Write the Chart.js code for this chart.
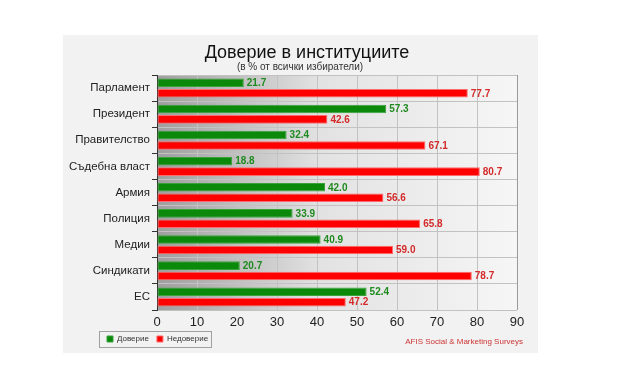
<!DOCTYPE html>
<html>
<head>
<meta charset="utf-8">
<script src="https://cdn.jsdelivr.net/npm/chart.js@4/dist/chart.umd.min.js"></script>
<style>
  html, body { margin: 0; padding: 0; background: #ffffff; }
  #panel { position: absolute; left: 63px; top: 35px; width: 475px; height: 318px; background: #f2f2f2; }
  canvas { display: block; }
</style>
</head>
<body>
<div id="panel"><canvas id="c" width="475" height="318"></canvas></div>
<script>
const titleText = 'Доверие в институциите';
const subtitleText = '(в % от всички избиратели)';
const sourceText = 'AFIS Social & Marketing Surveys';
const categories = ['Парламент', 'Президент', 'Правителство', 'Съдебна власт', 'Армия', 'Полиция', 'Медии', 'Синдикати', 'ЕС'];
const seriesNames = ['Доверие', 'Недоверие'];
const trust = [21.7, 57.3, 32.4, 18.8, 42.0, 33.9, 40.9, 20.7, 52.4];
const distrust = [77.7, 42.6, 67.1, 80.7, 56.6, 65.8, 59.0, 78.7, 47.2];
const xTicks = [0, 10, 20, 30, 40, 50, 60, 70, 80, 90];

const FONT = "'Liberation Sans', Arial, sans-serif";
const labelColors = ['#1f8a1f', '#d42a2a'];

function shiftBox(box, dx) {
  if (box) { box.left += dx; box.right += dx; }
}

const bgPlugin = {
  id: 'plotBg',
  afterLayout(chart) {
    shiftBox(chart.legend, 36);
    shiftBox(chart.titleBlock, 17);
    const sub = chart.boxes.find(b => b !== chart.titleBlock && b.options && b.options.position === 'top' && typeof b._drawArgs === 'function');
    shiftBox(sub, 10);
  },
  beforeDraw(chart) {
    const a = chart.chartArea, ctx = chart.ctx;
    const g = ctx.createLinearGradient(a.left, 0, a.right, 0);
    g.addColorStop(0, '#9e9e9e');
    g.addColorStop(0.45, '#e2e2e2');
    g.addColorStop(1, '#f6f6f6');
    ctx.save();
    ctx.fillStyle = g;
    ctx.fillRect(a.left, a.top, a.right - a.left, a.bottom - a.top);
    ctx.restore();
  }
};

const valuePlugin = {
  id: 'values',
  afterDatasetsDraw(chart) {
    const ctx = chart.ctx;
    ctx.save();
    ctx.font = "bold 10px " + FONT;
    ctx.textBaseline = 'middle';
    ctx.textAlign = 'left';
    chart.data.datasets.forEach((ds, di) => {
      const meta = chart.getDatasetMeta(di);
      meta.data.forEach((el, i) => {
        ctx.fillStyle = labelColors[di];
        ctx.fillText(Number(ds.data[i]).toFixed(1), el.x + 3, el.y + 0.5);
      });
    });
    ctx.restore();
  }
};

const extrasPlugin = {
  id: 'extras',
  afterDraw(chart) {
    const ctx = chart.ctx;
    const a = chart.chartArea;
    ctx.save();
    ctx.strokeStyle = '#9a9a9a';
    ctx.lineWidth = 1;
    ctx.beginPath();
    ctx.moveTo(Math.round(a.right) + 0.5, a.top);
    ctx.lineTo(Math.round(a.right) + 0.5, a.bottom);
    ctx.stroke();
    const hb = chart.legend.legendHitBoxes;
    if (hb && hb.length) {
      const first = hb[0], last = hb[hb.length - 1];
      const l = first.left - 8, r = last.left + last.width + 3;
      const t = first.top - 4, b = first.top + first.height + 4;
      ctx.strokeStyle = '#a0a0a0';
      ctx.strokeRect(Math.round(l) + 0.5, Math.round(t) + 0.5, Math.round(r - l), Math.round(b - t));
      ctx.font = "8px " + FONT;
      ctx.fillStyle = '#cc3333';
      ctx.textAlign = 'right';
      ctx.textBaseline = 'middle';
      ctx.fillText(sourceText, a.right + 6, first.top + first.height / 2 + 3);
    }
    ctx.restore();
  }
};

new Chart(document.getElementById('c'), {
  type: 'bar',
  data: {
    labels: categories,
    datasets: [
      { label: seriesNames[0], data: trust, backgroundColor: '#0a890a', borderColor: '#3aa23a', borderWidth: 1, borderSkipped: false },
      { label: seriesNames[1], data: distrust, backgroundColor: '#ff0000', borderColor: '#ff6a6a', borderWidth: 1, borderSkipped: false }
    ]
  },
  options: {
    indexAxis: 'y',
    responsive: false,
    devicePixelRatio: 1,
    animation: false,
    events: [],
    layout: { padding: { left: 0, right: 21, top: 0, bottom: 0 } },
    datasets: { bar: { categoryPercentage: 0.8, barPercentage: 0.82 } },
    scales: {
      x: {
        min: 0, max: 90,
        afterBuildTicks(scale) { scale.ticks = xTicks.map(v => ({ value: v })); },
        grid: { color: '#c2c2c2', drawTicks: false },
        border: { display: false },
        ticks: { font: { family: FONT, size: 13 }, color: '#222', padding: 5 },
        afterFit(scale) { scale.height = 17; }
      },
      y: {
        grid: { color: '#c2c2c2', tickColor: '#333', tickLength: 5, offset: true },
        border: { display: true, color: '#333', width: 1 },
        ticks: { font: { family: FONT, size: 11.5 }, color: '#222', padding: 2 },
        afterFit(scale) { scale.width = 94; }
      }
    },
    plugins: {
      title: { display: true, text: titleText, color: '#111', font: { family: FONT, size: 18, weight: 'normal', lineHeight: 1 }, padding: { top: 9, bottom: 0 } },
      subtitle: { display: true, text: subtitleText, color: '#333', font: { family: FONT, size: 10, lineHeight: 1 }, padding: { top: 0, bottom: 3 } },
      legend: {
        display: true, position: 'bottom', align: 'start',
        labels: { boxWidth: 6, boxHeight: 6, padding: 8, color: '#333', font: { family: FONT, size: 8 } }
      },
      tooltip: { enabled: false }
    }
  },
  plugins: [bgPlugin, valuePlugin, extrasPlugin]
});
</script>
</body>
</html>
